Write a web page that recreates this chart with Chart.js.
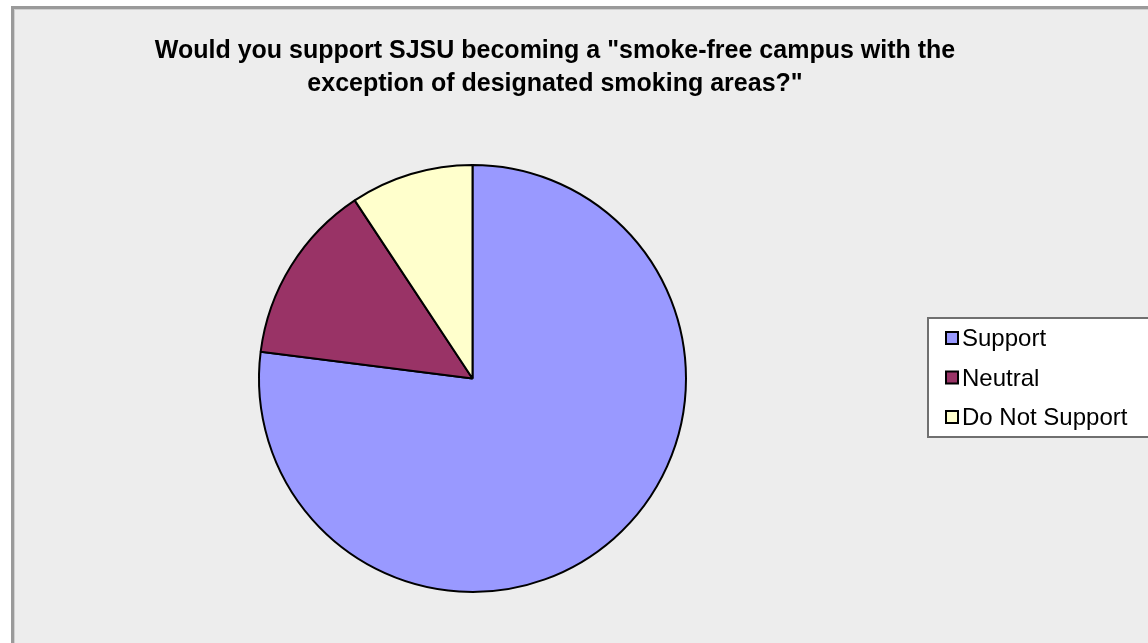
<!DOCTYPE html>
<html>
<head>
<meta charset="utf-8">
<script src="https://cdn.jsdelivr.net/npm/chart.js@4.4.1/dist/chart.umd.min.js"></script>
<style>
  html, body { margin: 0; padding: 0; background: #ffffff; }
  #wrap { width: 1148px; height: 643px; position: relative; }
</style>
</head>
<body>
<div id="wrap"><canvas id="c" width="1148" height="643"></canvas></div>
<script>
const titleLines = ['Would you support SJSU becoming a "smoke-free campus with the', 'exception of designated smoking areas?"'];
const categories = ['Support', 'Neutral', 'Do Not Support'];
const values = [77.0, 13.7, 9.3];
const colors = ['#9999FF', '#993366', '#FFFFCC'];

const panelPlugin = {
  id: 'panel',
  beforeDraw(chart) {
    const ctx = chart.ctx;
    ctx.save();
    ctx.fillStyle = '#ffffff';
    ctx.fillRect(0, 0, chart.width, chart.height);
    ctx.fillStyle = '#ededed';
    ctx.fillRect(11, 6, chart.width + 20, chart.height + 20);
    ctx.strokeStyle = '#9a9a9a';
    ctx.lineWidth = 3;
    ctx.strokeRect(12.5, 7.5, chart.width + 20, chart.height + 20);
    ctx.strokeStyle = '#d0d0d0';
    ctx.lineWidth = 1;
    ctx.strokeRect(14.5, 9.5, chart.width + 20, chart.height + 20);
    ctx.restore();
  },
  afterDraw(chart) {
    const ctx = chart.ctx;
    ctx.save();
    // title
    ctx.fillStyle = '#000000';
    ctx.font = 'bold 25px "Liberation Sans", Arial, sans-serif';
    ctx.textAlign = 'center';
    ctx.textBaseline = 'alphabetic';
    const tb = [58, 91];
    titleLines.forEach((t, i) => ctx.fillText(t, 555, tb[i]));
    // legend box
    ctx.fillStyle = '#ffffff';
    ctx.fillRect(927, 317, 240, 121);
    ctx.strokeStyle = '#707070';
    ctx.lineWidth = 2;
    ctx.strokeRect(928, 318, 240, 119);
    const labels = chart.data.labels;
    const bg = chart.data.datasets[0].backgroundColor;
    ctx.font = '24px "Liberation Sans", Arial, sans-serif';
    ctx.textAlign = 'left';
    labels.forEach((lab, i) => {
      const base = 346 + i * 39.5;
      ctx.fillStyle = bg[i];
      ctx.fillRect(946, base - 14, 12, 12);
      ctx.strokeStyle = '#000000';
      ctx.lineWidth = 2;
      ctx.strokeRect(946, base - 14, 12, 12);
      ctx.fillStyle = '#000000';
      ctx.fillText(lab, 962, base);
    });
    ctx.restore();
  }
};

new Chart(document.getElementById('c'), {
  type: 'pie',
  data: {
    labels: categories,
    datasets: [{
      data: values,
      backgroundColor: colors,
      borderColor: '#000000',
      borderWidth: 2
    }]
  },
  options: {
    responsive: false,
    animation: false,
    events: [],
    layout: { padding: { top: 164, bottom: 50, left: 258, right: 461 } },
    plugins: {
      legend: { display: false },
      title: { display: false },
      tooltip: { enabled: false }
    }
  },
  plugins: [panelPlugin]
});
</script>
</body>
</html>
